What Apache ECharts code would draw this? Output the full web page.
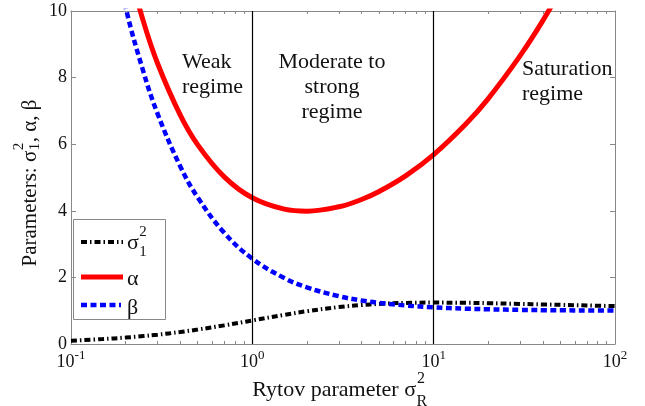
<!DOCTYPE html>
<html><head><meta charset="utf-8">
<script src="https://cdn.jsdelivr.net/npm/echarts@6/dist/echarts.min.js"></script>
<style>html,body{margin:0;padding:0;background:#fff}#c{width:645px;height:406px}</style>
</head><body><div id="c"></div>
<script>
// ---- data ----
const rytov     = [0.1, 0.15, 0.2, 0.25, 0.3, 0.4, 0.5, 0.7, 1, 1.5, 2, 3, 4, 5, 7, 10, 15, 20, 30, 40, 50, 70, 100];
const sigma1Sq  = [0.099, 0.147, 0.193, 0.238, 0.280, 0.360, 0.433, 0.559, 0.707, 0.876, 0.985, 1.109, 1.170, 1.204, 1.234, 1.243, 1.237, 1.225, 1.204, 1.188, 1.175, 1.157, 1.138];
const alphaVals = [21.6, 14.93, 11.65, 9.71, 8.43, 6.88, 5.98, 5.02, 4.39, 4.05, 3.99, 4.12, 4.34, 4.58, 5.05, 5.69, 6.60, 7.37, 8.66, 9.71, 10.64, 12.2, 14.1];
const betaVals  = [19.8, 13.35, 10.12, 8.20, 6.92, 5.34, 4.40, 3.34, 2.56, 1.98, 1.70, 1.435, 1.309, 1.236, 1.157, 1.102, 1.061, 1.043, 1.025, 1.016, 1.012, 1.007, 1.004];
const regimeBounds = [1, 10];
const xMajorTicks = [0.1, 1, 10, 100];
const xMinorTicks = [0.2, 0.3, 0.4, 0.5, 0.6, 0.7, 0.8, 0.9, 2, 3, 4, 5, 6, 7, 8, 9, 20, 30, 40, 50, 60, 70, 80, 90];
const yTickInterval = 2;
const regimeLabels = ['Weak\nregime', 'Moderate to\nstrong\nregime', 'Saturation\nregime'];
const seriesNames = ['σ₁²', 'α', 'β'];

// ---- styling ----
const FONT = 'Liberation Serif';
const TXT = '#111';
const FRAME = '#888';
const canvas = document.createElement('canvas');
const ctx = canvas.getContext('2d');
function measure(t, size) { ctx.font = size + 'px "' + FONT + '"'; return ctx.measureText(t).width; }
function txt(x, y, text, size, extra) {
  return Object.assign({ type: 'text', x: x, y: y, silent: true,
    style: Object.assign({ text: text, font: size + 'px "' + FONT + '"', fontSize: size, fontFamily: FONT, fill: TXT, align: 'left', verticalAlign: 'middle' }, extra || {}) });
}

const chart = echarts.init(document.getElementById('c'), null, { renderer: 'canvas' });

function pair(xs, ys) { return xs.map((x, i) => [x, ys[i]]); }

// y-axis title group (rotated)
const ytSize = 21, ytSmall = 15;
const yw1 = measure('Parameters: σ', ytSize), yws = measure('2', ytSmall), yw3 = measure(', α, β', ytSize);
const yL = yw1 + yws + 1 + yw3;
const yTitle = { type: 'group', x: 30, y: 183, rotation: Math.PI / 2, children: [
  txt(-yL / 2, 0, 'Parameters: σ', ytSize),
  txt(-yL / 2 + yw1 + 0.5, -11, '2', ytSmall),
  txt(-yL / 2 + yw1 + 0.5, 5, '1', ytSmall),
  txt(-yL / 2 + yw1 + yws + 1, 0, ', α, β', ytSize)
]};

// x-axis title
const xtSize = 22, xtSmall = 16;
const xw1 = measure('Rytov parameter σ', xtSize), xws = measure('R', xtSmall);
const xL = xw1 + xws + 1;
const xLeft = 340 - xL / 2;
const xTitle = { type: 'group', x: 0, y: 0, children: [
  txt(xLeft, 390, 'Rytov parameter σ', xtSize),
  txt(xLeft + xw1 + 1, 379, '2', xtSmall),
  txt(xLeft + xw1 + 0.5, 402, 'R', xtSmall)
]};

// legend
const lgX = 127;
const sw = measure('σ', 22);
const legend = { type: 'group', x: 0, y: 0, children: [
  { type: 'rect', shape: { x: 73.5, y: 219.5, width: 92, height: 100 }, style: { fill: '#fff', stroke: FRAME, lineWidth: 1 }, silent: true },
  { type: 'line', shape: { x1: 81, y1: 242, x2: 123, y2: 242 }, style: { stroke: '#000', lineWidth: 4, lineDash: [6, 3, 1.5, 3] }, silent: true },
  { type: 'line', shape: { x1: 81, y1: 277, x2: 123, y2: 277 }, style: { stroke: '#ff0000', lineWidth: 5 }, silent: true },
  { type: 'line', shape: { x1: 81, y1: 305, x2: 121, y2: 305 }, style: { stroke: '#0000ff', lineWidth: 4.5, lineDash: [6, 3.5] }, silent: true },
  txt(lgX, 243, 'σ', 22),
  txt(lgX + sw + 0.5, 232, '2', 15),
  txt(lgX + sw + 0.5, 252, '1', 15),
  txt(lgX, 279, seriesNames[1], 22),
  txt(lgX, 308, seriesNames[2], 22)
]};

// regime annotations
const annot = [
  txt(182, 75, regimeLabels[0], 22, { lineHeight: 25, align: 'left' }),
  txt(332, 87, regimeLabels[1], 22, { lineHeight: 25, align: 'center' }),
  txt(522, 82, regimeLabels[2], 22, { lineHeight: 25, align: 'left' })
];

const xLabelRich = {
  b: { fontSize: 18, fontFamily: FONT, color: TXT, lineHeight: 26 },
  s: { fontSize: 13, fontFamily: FONT, color: TXT, lineHeight: 13, verticalAlign: 'top' }
};

function xAxisCfg(pos, ticks, len, showLine, showLabel) {
  return {
    type: 'log', logBase: 10, min: 0.1, max: 100, position: pos, gridIndex: 0,
    axisLine: { show: showLine, onZero: false, lineStyle: { color: FRAME, width: 1 } },
    axisTick: { show: true, inside: true, length: len, customValues: ticks, lineStyle: { color: FRAME, width: 1 } },
    axisLabel: showLabel ? {
      show: true, margin: 5, customValues: xMajorTicks, fontFamily: FONT,
      formatter: v => '{b|10}{s|' + Math.round(Math.log10(v)) + '}', rich: xLabelRich
    } : { show: false },
    splitLine: { show: false }, minorTick: { show: false }, minorSplitLine: { show: false }
  };
}

const option = {
  animation: false,
  backgroundColor: '#fff',
  textStyle: { fontFamily: FONT },
  grid: { left: 71, right: 30, top: 11, bottom: 62, containLabel: false },
  xAxis: [
    xAxisCfg('bottom', xMajorTicks, 5, true, true),
    xAxisCfg('bottom', xMinorTicks, 3, false, false),
    xAxisCfg('top', xMajorTicks, 5, true, false),
    xAxisCfg('top', xMinorTicks, 3, false, false)
  ],
  yAxis: [
    { type: 'value', min: 0, max: 10, interval: yTickInterval, position: 'left',
      axisLine: { show: true, lineStyle: { color: FRAME, width: 1 } },
      axisTick: { show: true, inside: true, length: 5, lineStyle: { color: FRAME } },
      axisLabel: { margin: 4, fontSize: 18, fontFamily: FONT, color: TXT },
      splitLine: { show: false } },
    { type: 'value', min: 0, max: 10, interval: yTickInterval, position: 'right',
      axisLine: { show: true, lineStyle: { color: FRAME, width: 1 } },
      axisTick: { show: true, inside: true, length: 5, lineStyle: { color: FRAME } },
      axisLabel: { show: false }, splitLine: { show: false } }
  ],
  series: [
    { name: seriesNames[0], type: 'line', xAxisIndex: 0, yAxisIndex: 0, data: pair(rytov, sigma1Sq),
      smooth: 0.4, showSymbol: false, clip: true,
      lineStyle: { color: '#000', width: 4, type: [6, 3, 1.5, 3] },
      markLine: { silent: true, symbol: 'none', label: { show: false }, animation: false,
        lineStyle: { color: '#000', width: 1.2, type: 'solid' },
        data: regimeBounds.map(v => ({ xAxis: v })) } },
    { name: seriesNames[1], type: 'line', xAxisIndex: 0, yAxisIndex: 0, data: pair(rytov, alphaVals),
      smooth: 0.4, showSymbol: false, clip: true,
      lineStyle: { color: '#ff0000', width: 5 } },
    { name: seriesNames[2], type: 'line', xAxisIndex: 0, yAxisIndex: 0, data: pair(rytov, betaVals),
      smooth: 0.4, showSymbol: false, clip: true,
      lineStyle: { color: '#0000ff', width: 4.5, type: [6, 3.5] } }
  ],
  graphic: [yTitle, xTitle, legend].concat(annot)
};
chart.setOption(option);
</script>
</body></html>
